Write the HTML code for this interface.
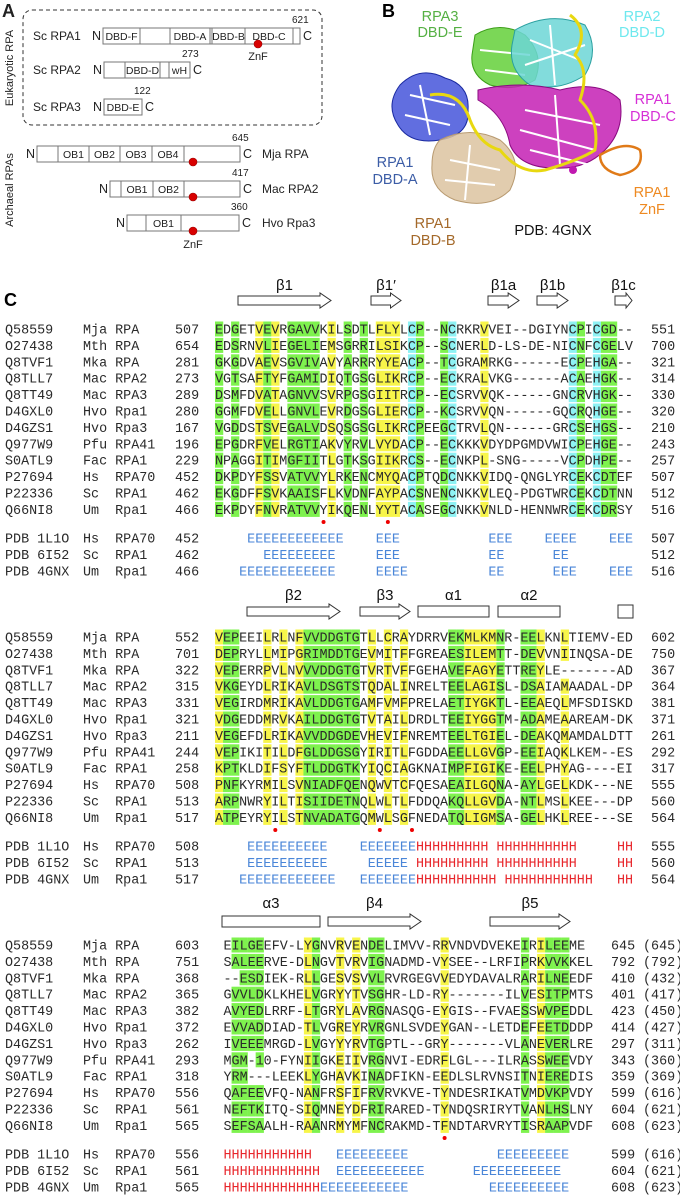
<!DOCTYPE html>
<html><head><meta charset="utf-8">
<style>
html,body{margin:0;padding:0;background:#fff;}
svg{display:block;}
.mono{font-family:"Liberation Mono",monospace;font-size:13.4px;fill:#2a2a2a;white-space:pre;}
.sans{font-family:"Liberation Sans",sans-serif;}
</style></head>
<body>
<svg id="fig" width="680" height="1201" viewBox="0 0 680 1201" xmlns="http://www.w3.org/2000/svg">
<g id="panelA" class="sans" font-size="11" fill="#222">
  <text x="2" y="17" font-size="18" font-weight="bold">A</text>
  <rect x="23" y="10" width="299" height="115" rx="9" fill="none" stroke="#333" stroke-dasharray="4,3" stroke-width="1"/>
  <text transform="translate(13,68) rotate(-90)" text-anchor="middle" font-size="11">Eukaryotic RPA</text>
  <text transform="translate(13,190) rotate(-90)" text-anchor="middle" font-size="11">Archaeal RPAs</text>
</g>
<g id="panelB">
  <text x="382" y="17" class="sans" font-size="18" font-weight="bold">B</text>
  <g stroke-linejoin="round">
    <path d="M400 85 Q420 65 445 78 Q470 85 468 110 Q470 135 440 140 Q410 145 398 125 Q385 105 400 85Z" fill="#3a4ad8" fill-opacity="0.8" stroke="#1a2aa0"/>
    <path d="M410 95 L455 105 M405 115 L450 125 M420 85 L430 135" stroke="#ffffff" stroke-width="2" fill="none"/>
    <path d="M440 140 Q470 125 500 140 Q525 160 510 190 Q490 210 455 200 Q430 190 432 165 Q432 148 440 140Z" fill="#dcc3a0" fill-opacity="0.85" stroke="#b89a70"/>
    <path d="M450 160 L500 170 M445 180 L495 185 M470 145 L465 200" stroke="#fff" stroke-width="2" fill="none"/>
    <path d="M475 35 Q500 20 525 35 Q545 55 535 80 Q515 92 490 85 Q470 75 472 55Z" fill="#64d03a" fill-opacity="0.85" stroke="#3c9e18"/>
    <path d="M480 50 L530 55 M485 70 L525 75" stroke="#fff" stroke-width="2" fill="none"/>
    <path d="M515 30 Q550 10 585 25 Q600 50 585 75 Q560 92 530 85 Q508 70 512 45Z" fill="#6cd6d6" fill-opacity="0.85" stroke="#2aa0a0"/>
    <path d="M530 40 L580 60 M525 65 L585 45 M550 25 L555 85" stroke="#fff" stroke-width="2" fill="none"/>
    <path d="M478 90 Q520 80 560 90 Q600 80 620 100 Q625 130 605 150 Q585 170 555 168 Q520 168 510 145 Q505 115 478 100Z" fill="#c420b4" fill-opacity="0.85" stroke="#8a0a80"/>
    <path d="M525 110 L600 125 M520 130 L595 150 M530 150 L590 165 M555 95 L560 165" stroke="#fff" stroke-width="2" fill="none"/>
    <circle cx="573" cy="170" r="4" fill="#c018b0"/>
    <path d="M600 155 Q625 140 640 150 Q645 170 620 175 Q600 170 600 155Z" fill="none" stroke="#e07a18" stroke-width="2.5"/>
    <path d="M430 95 Q460 90 470 120 Q480 145 500 150 Q520 175 545 170 Q580 160 595 150 Q600 120 580 100 Q590 70 575 55 Q590 30 570 15" fill="none" stroke="#e8d810" stroke-width="3"/>
  </g>
  <g class="sans" font-size="14.5" text-anchor="middle">
    <text x="440" y="21" fill="#55b043">RPA3</text>
    <text x="440" y="37" fill="#55b043">DBD-E</text>
    <text x="642" y="21" fill="#6ee8ee">RPA2</text>
    <text x="642" y="37" fill="#6ee8ee">DBD-D</text>
    <text x="653" y="104" fill="#d62fd6">RPA1</text>
    <text x="653" y="121" fill="#d62fd6">DBD-C</text>
    <text x="395" y="167" fill="#3c5da6">RPA1</text>
    <text x="395" y="184" fill="#3c5da6">DBD-A</text>
    <text x="652" y="197" fill="#ee8a22">RPA1</text>
    <text x="652" y="214" fill="#ee8a22">ZnF</text>
    <text x="433" y="228" fill="#a4692a">RPA1</text>
    <text x="433" y="245" fill="#a4692a">DBD-B</text>
    <text x="553" y="235" fill="#111">PDB: 4GNX</text>
  </g>
</g>
<text x="4" y="306" class="sans" font-size="18" font-weight="bold">C</text>
<g id="panelC"></g>
</svg>
<script>
const NS="http://www.w3.org/2000/svg";
function mk(tag,attrs,parent){const e=document.createElementNS(NS,tag);for(const k in attrs)e.setAttribute(k,attrs[k]);parent.appendChild(e);return e;}
function txt(s,attrs,parent){const e=mk('text',attrs,parent);e.textContent=s;return e;}

const domainProteins=["Sc RPA1","Sc RPA2","Sc RPA3","Mja RPA","Mac RPA2","Hvo Rpa3"];
const domainLengths=["621","273","122","645","417","360"];
const domainNames=[["DBD-F","","DBD-A","","DBD-B","DBD-C",""],["","DBD-D","","wH"],["DBD-E"],["","OB1","OB2","OB3","OB4",""],["","OB1","OB2",""],["","OB1",""]];
const domainEdges=[[103,140,170,210,212,245,293,300],[104,125,160,169,190],[104,142],[37,58,89,120,152,184,240],[110,121,153,184,240],[127,146,181,239]];
const domainRowY=[28,62,99,146,181,215];
const znfRows=[0,3,4,5];
const znfX=[258,193,193,193];
const A=document.getElementById('panelA');
domainProteins.forEach((p,r)=>{
  const ed=domainEdges[r],y=domainRowY[r],h=16;
  const g=mk('g',{},A);
  
  
  const L=ed[0],R=ed[ed.length-1];
  mk('rect',{x:L,y:y,width:R-L,height:h,fill:'#fff',stroke:'#777','stroke-width':1},g);
  for(let i=1;i<ed.length-1;i++) mk('line',{x1:ed[i],x2:ed[i],y1:y,y2:y+h,stroke:'#777'},g);
  domainNames[r].forEach((n,i)=>{ if(n) txt(n,{x:(ed[i]+ed[i+1])/2,y:y+12,'text-anchor':'middle','font-size':10.5},g);});
  txt('N',{x:L-11,y:y+12,'font-size':12.5},g);
  txt('C',{x:R+3,y:y+12,'font-size':12.5},g);
  txt(domainLengths[r],{x:R-8,y:y-5,'font-size':10},g);
  if(r<3) txt(p,{x:33,y:y+12,'font-size':12},g);
  else txt(p,{x:262,y:y+12,'font-size':12},g);
});
znfRows.forEach((r,i)=>{
  const c=mk('circle',{cx:znfX[i],cy:domainRowY[r]+16,r:4,fill:'#d80000',stroke:'#900','stroke-width':0.6},A);
  
  
});
txt('ZnF',{x:258,y:60,'text-anchor':'middle','font-size':11},A);
txt('ZnF',{x:193,y:248,'text-anchor':'middle','font-size':11},A);

const seqIds=["Q58559","O27438","Q8TVF1","Q8TLL7","Q8TT49","D4GXL0","D4GZS1","Q977W9","S0ATL9","P27694","P22336","Q66NI8"];
const seqNames=["Mja RPA","Mth RPA","Mka RPA","Mac RPA2","Mac RPA3","Hvo Rpa1","Hvo Rpa3","Pfu RPA41","Fac RPA1","Hs  RPA70","Sc  RPA1","Um  Rpa1"];
const block1Seqs=["EDGETVEVRGAVVKILSDTLFLYLCP--NCRKRVVEI--DGIYNCPICGD--","EDSRNVLIEGELIEMSGRRILSIKCP--SCNERLD-LS-DE-NICNFCGELV","GKGDVAEVSGVIVAVYARRRYYEACP--TCGRAMRKG------ECPEHGA--","VGTSAFTYFGAMIDIQTGSGLIKRCP--ECKRALVKG------ACAEHGK--","DSMFDVATAGNVVSVRPGSGIITRCP--ECSRVVQK------GNCRVHGK--","GGMFDVELLGNVLEVRDGSGLIERCP--KCSRVVQN------GQCRQHGE--","VGDDSTSVEGALVDSQSGSGLIKRCPEEGCTRVLQN------GRCSEHGS--","EPGDRFVELRGTIAKVYRVLVYDACP--ECKKKVDYDPGMDVWICPEHGE--","NPAGGITIMGFIITLGTKSGIIKRCS--ECNKPL-SNG-----VCPDHPE--","DKPDYFSSVATVVYLRKENCMYQACPTQDCNKKVIDQ-QNGLYRCEKCDTEF","EKGDFFSVKAAISFLKVDNFAYPACSNENCNKKVLEQ-PDGTWRCEKCDTNN","EKPDYFNVRATVVYIKQENLYYTACASEGCNKKVNLD-HENNWRCEKCDRSY"];
const block1Start=["507","654","281","273","289","280","167","196","229","452","462","466"];
const block1End=["551","700","321","314","330","320","210","243","257","507","512","516"];
const block2Seqs=["VEPEEILRLNFVVDDGTGTLLCRAYDRRVEKMLKMNR-EELKNLTIEMV-ED","DEPRYLLMIPGRIMDDTGEVMITFFGREAESILEMTT-DEVVNIINQSA-DE","VEPERRPVLNVVVDDGTGTVRTVFFGEHAVEFAGYETTREYLE-------AD","VKGEYDLRIKAVLDSGTSTQDALINRELTEELAGISL-DSAIAMAADAL-DP","VEGIRDMRIKAVLDDGTGAMFVMFPRELAETIYGKTL-EEAEQLMFSDISKD","VDGEDDMRVKAILDDGTGTVTAILDRDLTEEIYGGTM-ADAMEAAREAM-DK","VEGEFDLRIKAVVDDGDEVHEVIFNREMTEELTGIEL-DEAKQMAMDALDTT","VEPIKITILDFGLDDGSGYIRITLFGDDAEELLGVGP-EEIAQKLKEM--ES","KPTKLDIFSYFTLDDGTKYIQCIAGKNAIMPFIGIKE-EELPHYAG----EI","PNFKYRMILSVNIADFQENQWVTCFQESAEAILGQNA-AYLGELKDK---NE","ARPNWRYILTISIIDETNQLWLTLFDDQAKQLLGVDA-NTLMSLKEE---DP","ATPEYRYILSTNVADATGQMWLSGFNEDATQLIGMSA-GELHKLREE---SE"];
const block2Start=["552","701","322","315","331","321","211","244","258","508","513","517"];
const block2End=["602","750","367","364","381","371","261","292","317","555","560","564"];
const block3Seqs=["EILGEEFV-LYGNVRVENDELIMVV-RRVNDVDVEKEIRILEEME","SALEERVE-DLNGVTVRVIGNADMD-VYSEE--LRFIPRKVVKKEL","--ESDIEK-RLLGESVSVVLRVRGEGVVEDYDAVALRARILNEEDF","GVVLDKLKHELVGRYYTVSGHR-LD-RY-------ILVESITPMTS","AVYEDLRRF-LTGRYLAVRGNASQG-EYGIS--FVAESSWVPEDDL","EVVADDIAD-TLVGREYRVRGNLSVDEYGAN--LETDEFEETDDDP","IVEEEMRGD-LVGYYYRVTGPTL--GRY-------VLANEVERLRE","MGM-10-FYNIIGKEIIVRGNVI-EDRFLGL---ILRASSWEEVDY","YRM---LEEKLYGHAVKINADFIKN-EEDLSLRVNSITNIEREDIS","QAFEEVFQ-NANFRSFIFRVRVKVE-TYNDESRIKATVMDVKPVDY","NEFTKITQ-SIQMNEYDFRIRARED-TYNDQSRIRYTVANLHSLNY","SEFSAALH-RAANRMYMFNCRAKMD-TFNDTARVRYTISRAAPVDF"];
const block3Start=["603","751","368","365","382","372","262","293","318","556","561","565"];
const block3End=["645","792","410","401","423","414","297","343","359","599","604","608"];
const block3Total=["(645)","(792)","(432)","(417)","(450)","(427)","(311)","(360)","(369)","(616)","(621)","(623)"];
const block1Mask="g.g..ygy.gggg.y.g.g.yyy.cg..gc...y..........cg.cgg..";
const block2Mask="ygg...y.y.yggggggg.y.y.y.....ggyyyyg..ggy..y........";
const block3Mask=".gggg.....yg..y.y.gg.......y.........g.yggg...";
const pdbIds=["PDB 1L1O","PDB 6I52","PDB 4GNX"];
const pdbNames=["Hs  RPA70","Sc  RPA1","Um  Rpa1"];
const pdb1=["    EEEEEEEEEEEE    EEE           EEE    EEEE    EEE","      EEEEEEEEE     EEE           EE      EE","   EEEEEEEEEEEE     EEEE          EE      EEE    EEE"];
const pdb2=["    EEEEEEEEEE    EEEEEEEHHHHHHHHH HHHHHHHHHH     HH","    EEEEEEEEEE     EEEEE HHHHHHHHH HHHHHHHHHH     HH","   EEEEEEEEEEEE   EEEEEEEHHHHHHHHHH HHHHHHHHHHH   HH"];
const pdb3=["HHHHHHHHHHH   EEEEEEEEE           EEEEEEEEE","HHHHHHHHHHHH  EEEEEEEEEEE      EEEEEEEEEEE","HHHHHHHHHHHHEEEEEEEEEEE          EEEEEEEEEE"];
const pdbStart1=["452","462","466"],pdbEnd1=["507","512","516"];
const pdbStart2=["508","513","517"],pdbEnd2=["555","560","564"];
const pdbStart3=["556","561","565"],pdbEnd3=["599","604","608"],pdbTotal3=["(616)","(621)","(623)"];
const dots1=[13,21],dots2=[7,20,24],dots3=[27];
const ss1Labels=["β1","β1′","β1a","β1b","β1c"];
const ss1Types=["arrow","arrow","arrow","arrow","arrow"];
const ss1From=[238,371,488,537,615],ss1To=[331,401,519,568,632];
const ss2Labels=["β2","β3","α1","α2",""];
const ss2Types=["arrow","arrow","rect","rect","box"];
const ss2From=[247,360,418,498,618],ss2To=[340,410,489,560,633];
const ss3Labels=["α3","β4","β5"];
const ss3Types=["rect","arrow","arrow"];
const ss3From=[222,328,490],ss3To=[320,421,570];

const C=document.getElementById('panelC');
const CW=8.04,RH=16.4;
const COL={g:'#7ef24e',y:'#f7f54a',c:'#8ef2f4'};

function ssHeader(labels,types,from,to,labelY,top,name){
  const g=mk('g',{},C);
  
  
  labels.forEach((l,i)=>{
    const x1=from[i],x2=to[i],t=types[i];
    if(l) txt(l,{x:(x1+x2)/2,y:labelY,'text-anchor':'middle','font-family':'Liberation Sans, sans-serif','font-size':15,fill:'#111'},g);
    let el;
    if(t==='arrow'){
      const hw=Math.min(11,(x2-x1)*0.35);
      el=mk('polygon',{points:`${x1},${top+3} ${x2-hw},${top+3} ${x2-hw},${top} ${x2},${top+7.5} ${x2-hw},${top+15} ${x2-hw},${top+12} ${x1},${top+12}`,fill:'#fff',stroke:'#333','stroke-width':1},g);
    } else if(t==='rect'){
      el=mk('rect',{x:x1,y:top+2,width:x2-x1,height:11,fill:'#fff',stroke:'#333'},g);
    } else {
      el=mk('rect',{x:x1,y:top+1,width:x2-x1,height:13,fill:'#fff',stroke:'#333'},g);
    }
    
    
  });
}

function block(seqs,starts,ends,totals,mask,x0,y0,endX,dots,dotY,pdb,ps,pe,pt,pdbY,name){
  const g=mk('g',{},C);
  
  
  seqs.forEach((s,r)=>{
    const cy=y0+r*RH;
    const row=mk('g',{},g);
    
    
    for(let i=0;i<s.length;i++){
      const m=mask[i];
      if(m && m!=='.' && s[i]!=='-'){
        mk('rect',{x:x0+i*CW,y:cy-7.5,width:CW+0.2,height:15,fill:COL[m]},row);
      }
    }
    txt(seqIds[r],{x:5,y:cy+4.5,class:'mono'},row);
    txt(seqNames[r],{x:83,y:cy+4.5,class:'mono'},row);
    txt(starts[r],{x:175,y:cy+4.5,class:'mono'},row);
    txt(s,{x:x0,y:cy+4.5,class:'mono'},row);
    txt(ends[r],{x:endX,y:cy+4.5,class:'mono'},row);
    if(totals) txt(totals[r],{x:643,y:cy+4.5,class:'mono'},row);
  });
  dots.forEach(d=>{
    const c=mk('circle',{cx:x0+(d+0.5)*CW,cy:dotY,r:2,fill:'#e00'},g);
    
    
  });
  pdb.forEach((s,r)=>{
    const cy=pdbY+r*RH;
    const row=mk('g',{},g);
    
    
    txt(pdbIds[r],{x:5,y:cy+4.5,class:'mono'},row);
    txt(pdbNames[r],{x:83,y:cy+4.5,class:'mono'},row);
    txt(ps[r],{x:175,y:cy+4.5,class:'mono'},row);
    for(let i=0;i<s.length;i++){
      if(s[i]===' ') continue;
      const t=txt(s[i],{x:x0+i*CW,y:cy+4.5,class:'mono'},row);
      t.style.fill = s[i]==='H' ? '#e8262b' : '#4a86d8';
    }
    txt(pe[r],{x:endX,y:cy+4.5,class:'mono'},row);
    if(pt) txt(pt[r],{x:643,y:cy+4.5,class:'mono'},row);
  });
}

ssHeader(ss1Labels,ss1Types,ss1From,ss1To,290,293,'ss-header-block-1');
block(block1Seqs,block1Start,block1End,null,block1Mask,215,329,651,dots1,522,pdb1,pdbStart1,pdbEnd1,null,538,'alignment-block-1');
ssHeader(ss2Labels,ss2Types,ss2From,ss2To,600,604,'ss-header-block-2');
block(block2Seqs,block2Start,block2End,null,block2Mask,215,637,651,dots2,830,pdb2,pdbStart2,pdbEnd2,null,846,'alignment-block-2');
ssHeader(ss3Labels,ss3Types,ss3From,ss3To,908,914,'ss-header-block-3');
block(block3Seqs,block3Start,block3End,block3Total,block3Mask,223.5,945,611,dots3,1138,pdb3,pdbStart3,pdbEnd3,pdbTotal3,1154,'alignment-block-3');
</script>
</body></html>
